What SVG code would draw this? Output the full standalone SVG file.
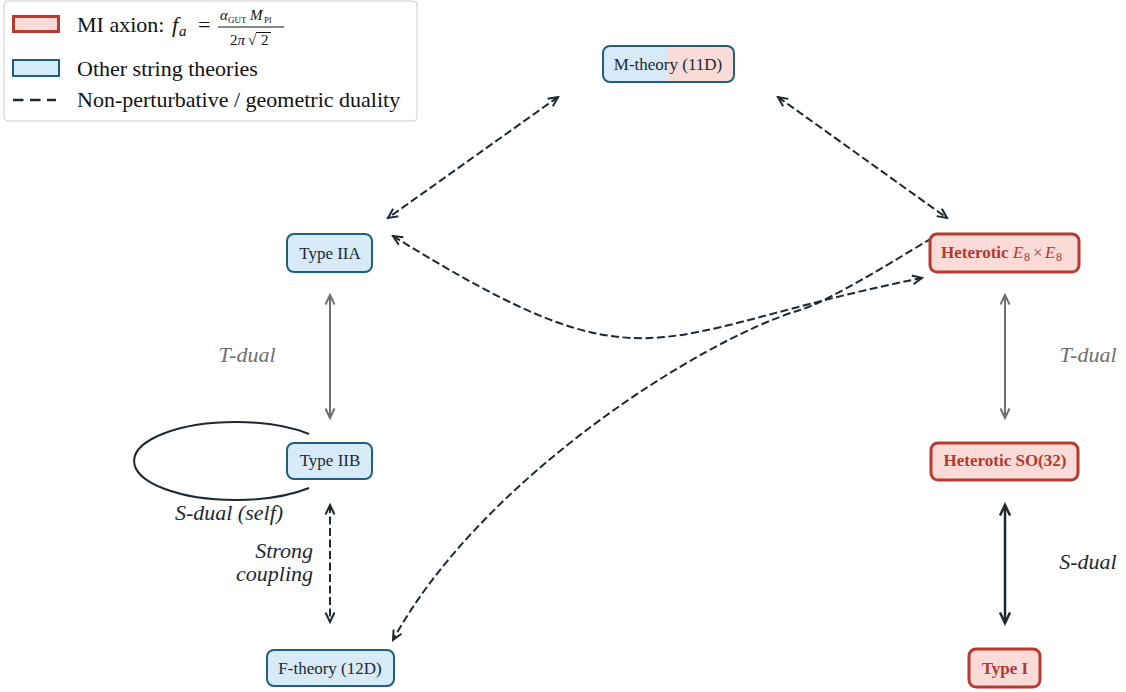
<svg xmlns="http://www.w3.org/2000/svg" width="1126" height="692" viewBox="0 0 1126 692">
<defs>
<style>
text{font-family:"Liberation Serif","Times New Roman",serif}
.blue{fill:#d6eaf8;stroke:#1f5f80;stroke-width:2}
.red{fill:#fadbd8;stroke:#b83a2e;stroke-width:3}
.lbl{font-size:17px;fill:#1c2833;text-anchor:middle}
.rlbl{font-size:17px;fill:#b03a2e;font-weight:bold}
.dash{fill:none;stroke:#1c2833;stroke-width:2;stroke-dasharray:8 3.5}
.gray{fill:none;stroke:#707070;stroke-width:2}
.solid{fill:none;stroke:#1c2833;stroke-width:2.5}
.it{font-style:italic;font-size:22px}
.leg{font-size:22px;fill:#111}
</style>
<marker id="ad" markerUnits="userSpaceOnUse" viewBox="-12 -7 14 14" refX="0" refY="0" markerWidth="14" markerHeight="14" orient="auto-start-reverse">
<path d="M-9.5,-4.5 L0,0 L-9.5,4.5" fill="none" stroke="#1c2833" stroke-width="2"/>
</marker>
<marker id="ag" markerUnits="userSpaceOnUse" viewBox="-12 -7 14 14" refX="0" refY="0" markerWidth="14" markerHeight="14" orient="auto-start-reverse">
<path d="M-9.5,-4.5 L0,0 L-9.5,4.5" fill="none" stroke="#707070" stroke-width="2"/>
</marker>
<marker id="as" markerUnits="userSpaceOnUse" viewBox="-13 -8 16 16" refX="0" refY="0" markerWidth="16" markerHeight="16" orient="auto-start-reverse">
<path d="M-10.5,-5 L0,0 L-10.5,5" fill="none" stroke="#1c2833" stroke-width="2.5"/>
</marker>
<clipPath id="mclip"><rect x="603" y="46" width="131" height="36" rx="7"/></clipPath>
</defs>
<rect x="0" y="0" width="1126" height="692" fill="#ffffff"/>

<g id="connectors">
<line class="dash" x1="558" y1="97" x2="388" y2="218" marker-start="url(#ad)" marker-end="url(#ad)"/>
<line class="dash" x1="778" y1="97" x2="947" y2="218" marker-start="url(#ad)" marker-end="url(#ad)"/>
<path class="dash" d="M393,236 C651.5,396 643.5,334 922,278" marker-start="url(#ad)" marker-end="url(#ad)"/>
<path class="dash" d="M932,238 C905,254 830,301 800,310 C700,340 480,480 393,640" marker-end="url(#ad)"/>
<line class="gray" x1="330" y1="295" x2="330" y2="418" marker-start="url(#ag)" marker-end="url(#ag)"/>
<line class="gray" x1="1005" y1="295" x2="1005" y2="418" marker-start="url(#ag)" marker-end="url(#ag)"/>
<line class="dash" x1="330" y1="505" x2="330" y2="622" marker-start="url(#ad)" marker-end="url(#ad)"/>
<line class="solid" x1="1005" y1="505" x2="1005" y2="623" marker-start="url(#as)" marker-end="url(#as)"/>
<path d="M309,434 A101.6 39 0 1 0 309,488" fill="none" stroke="#1c2833" stroke-width="2"/>
</g>

<g id="edge-labels">
<text class="it" x="247" y="362" text-anchor="middle" fill="#707070">T-dual</text>
<text class="it" x="1088" y="362" text-anchor="middle" fill="#707070">T-dual</text>
<text class="it" x="229" y="520" text-anchor="middle" fill="#1c2833">S-dual (self)</text>
<text class="it" x="313" y="558" text-anchor="end" fill="#1c2833">Strong</text>
<text class="it" x="313" y="581" text-anchor="end" fill="#1c2833">coupling</text>
<text class="it" x="1088" y="569" text-anchor="middle" fill="#1c2833">S-dual</text>
</g>

<g id="node-mtheory">
<rect x="603" y="46" width="131" height="36" rx="7" fill="#d6eaf8"/>
<rect x="668" y="40" width="70" height="46" fill="#fadbd8" clip-path="url(#mclip)"/>
<rect x="603" y="46" width="131" height="36" rx="7" fill="none" stroke="#1f5f80" stroke-width="2"/>
<text class="lbl" x="668" y="70">M-theory (11D)</text>
</g>
<g id="node-iia">
<rect class="blue" x="287" y="234" width="85" height="38" rx="7"/>
<text class="lbl" x="330" y="259">Type IIA</text>
</g>
<g id="node-iib">
<rect class="blue" x="287" y="443" width="85" height="36" rx="7"/>
<text class="lbl" x="330" y="466">Type IIB</text>
</g>
<g id="node-ftheory">
<rect class="blue" x="267" y="650" width="127" height="36" rx="7"/>
<text class="lbl" x="330" y="674">F-theory (12D)</text>
</g>
<g id="node-hete8">
<rect class="red" x="930" y="234" width="149" height="38" rx="7"/>
<text class="rlbl" x="941" y="258">Heterotic</text>
<text x="1013" y="258" font-size="17" fill="#b03a2e" font-style="italic">E</text>
<text x="1024" y="261" font-size="12" fill="#b03a2e">8</text>
<text x="1033" y="258" font-size="17" fill="#b03a2e">×</text>
<text x="1045" y="258" font-size="17" fill="#b03a2e" font-style="italic">E</text>
<text x="1056" y="261" font-size="12" fill="#b03a2e">8</text>
</g>
<g id="node-so32">
<rect class="red" x="931" y="443" width="147" height="37" rx="7"/>
<text class="rlbl" x="1005" y="466" text-anchor="middle">Heterotic SO(32)</text>
</g>
<g id="node-typei">
<rect class="red" x="969" y="649" width="71" height="38" rx="7"/>
<text class="rlbl" x="1005" y="674" text-anchor="middle">Type I</text>
</g>

<g id="legend">
<rect x="4" y="1" width="413" height="120" rx="4" fill="#ffffff" stroke="#cccccc" stroke-width="1"/>
<rect x="13.5" y="16.5" width="45" height="15" fill="#fadbd8" stroke="#b83a2e" stroke-width="3"/>
<rect x="13" y="60" width="46" height="16" fill="#d6eaf8" stroke="#1f5f80" stroke-width="2"/>
<line x1="13" y1="100" x2="56" y2="100" stroke="#1c2833" stroke-width="2.5" stroke-dasharray="10.5 6.5"/>
<text class="leg" x="77" y="32">MI axion:</text>
<text class="leg" x="172" y="32" font-style="italic">f</text>
<text x="179" y="36" font-size="15" font-style="italic" fill="#111">a</text>
<text class="leg" x="198" y="32">=</text>
<line x1="218" y1="27" x2="284" y2="27" stroke="#111" stroke-width="1"/>
<text x="220" y="20" font-size="15" font-style="italic" fill="#111">α</text>
<text x="228" y="23" font-size="9" fill="#111">GUT</text>
<text x="250" y="20" font-size="15" font-style="italic" fill="#111">M</text>
<text x="264" y="23" font-size="9" fill="#111">Pl</text>
<text x="230" y="45" font-size="15" fill="#111">2<tspan font-style="italic">π</tspan></text>
<text x="248" y="45" font-size="15" fill="#111">√</text>
<line x1="256" y1="32.5" x2="271" y2="32.5" stroke="#111" stroke-width="1"/>
<text x="261" y="45" font-size="15" fill="#111">2</text>
<text class="leg" x="77" y="76">Other string theories</text>
<text class="leg" x="77" y="107">Non-perturbative / geometric duality</text>
</g>
</svg>
